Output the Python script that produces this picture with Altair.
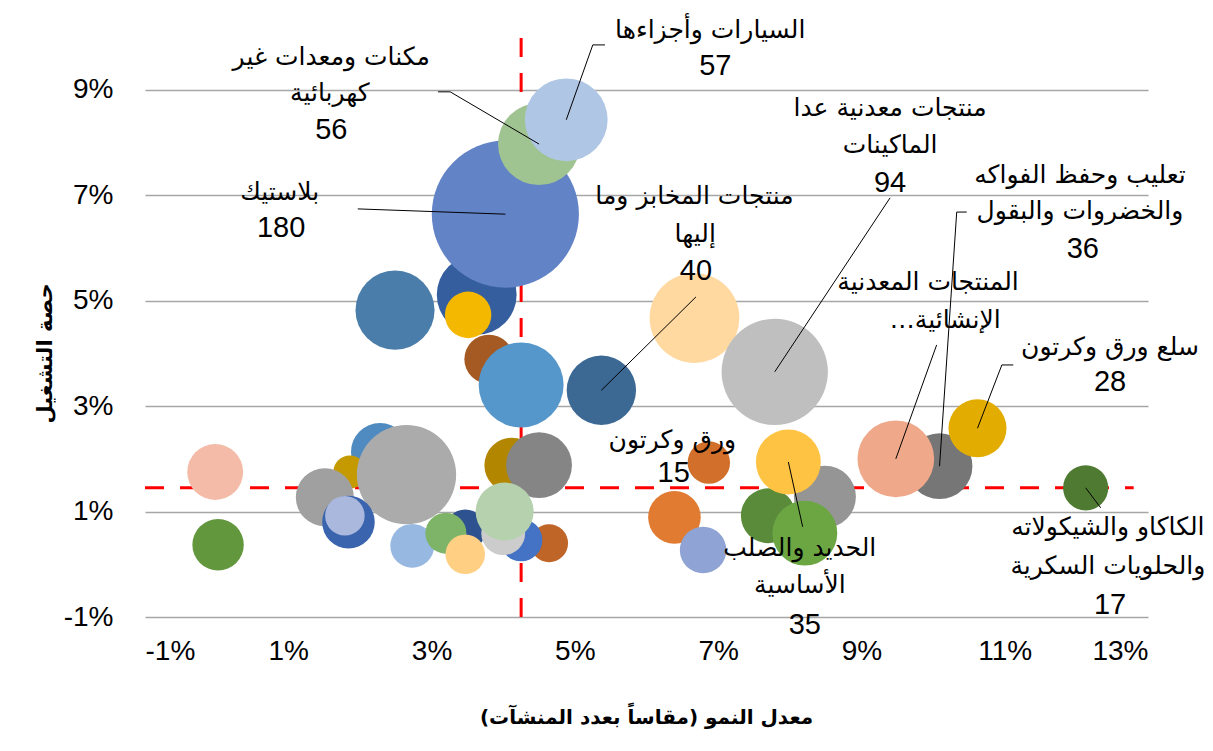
import altair as alt
import pandas as pd

# ---------------- bubble data (back to front) ----------------
growth = [3.63, 2.49, 4.03, 3.51, 4.50, 4.88, 3.80, 5.37, 4.25,
          6.67, 7.79, 8.49, 7.70, 7.98, 8.21, 6.39, 6.79, 6.87,
          10.09, 9.48, 10.62, 12.13,
          -0.02, 0.02, 2.28, 1.86, 1.51, 2.65, 1.84, 1.79, 2.73,
          3.47, 3.20, 3.47, 4.12, 4.50, 4.64, 4.25, 4.00, 4.02]
share = [5.11, 4.82, 6.64, 4.73, 7.97, 8.43, 3.89, 3.30, 3.40,
         4.67, 3.65, 1.28, 0.92, 1.94, 0.59, 0.89, 0.27, 1.93,
         1.86, 2.00, 2.58, 1.45,
         1.75, 0.37, 2.13, 1.75, 1.27, 1.70, 0.80, 0.92, 0.35,
         0.65, 0.59, 0.19, 1.88, 1.88, 0.40, 0.46, 0.59, 1.00]
count = [53, 52, 180, 18, 56, 57, 20, 40, 60,
         67, 94, 32, 25, 35, 35, 23, 18, 15,
         36, 49, 28, 17,
         26, 22, 28, 9, 28, 82, 23, 13, 16,
         14, 14, 13, 25, 36, 12, 15, 16, 28]
colors = ["#355E9F", "#4A7DAA", "#6283C6", "#F5B800", "#A0C491", "#AFC7E5", "#A45A22", "#3C6894", "#5596CB",
          "#FFD9A0", "#BFBFBF", "#959595", "#5A8B3A", "#FEC342", "#6BA643", "#E07B31", "#8FA3D4", "#D2702B",
          "#767676", "#F0A88A", "#E2AC00", "#4F7A31",
          "#F4BCA8", "#62973E", "#4F8BC0", "#C49A00", "#A0A0A0", "#ABABAB", "#3A64AD", "#AAB8DD", "#97B8E0",
          "#2E528F", "#7DB468", "#FFD084", "#B38600", "#858585", "#BF6527", "#4472C4", "#CCCCCC", "#B5D1AE"]

bubbles = pd.DataFrame({
    "idx": list(range(len(growth))),
    "growth": growth,
    "share": share,
    "count": count,
    "color": colors,
})

RLM = "\u200F"

# ---------------- labels ----------------
name_text = ["السيارات وأجزاءها",
             "مكنات ومعدات غير", "كهربائية",
             "بلاستيك",
             "منتجات معدنية عدا", "الماكينات",
             "منتجات المخابز وما", "إليها",
             "تعليب وحفظ الفواكه", "والخضروات والبقول",
             "المنتجات المعدنية", "الإنشائية…",
             "سلع ورق وكرتون",
             "ورق وكرتون",
             "الحديد والصلب", "الأساسية",
             "الكاكاو والشيكولاته", "والحلويات السكرية"]
name_x = [6.89, 1.60, 1.58, 0.88, 9.40, 9.40, 6.67, 6.68, 12.05, 12.05,
          9.93, 10.17, 12.47, 6.36, 8.14, 8.14, 12.44, 12.44]
name_y = [10.13, 9.62, 8.94, 7.06, 8.65, 7.95, 6.98, 6.26, 7.38, 6.70,
          5.35, 4.63, 4.12, 2.36, 0.31, -0.39, 0.71, -0.03]
names = pd.DataFrame({"t": [RLM + s + RLM for s in name_text], "x": name_x, "y": name_y})

num_text = ["57", "56", "180", "94", "40", "36", "28", "15", "35", "17"]
num_x = [6.96, 1.60, 0.90, 9.40, 6.69, 12.09, 12.47, 6.38, 8.21, 12.47]
num_y = [9.45, 8.24, 6.38, 7.23, 5.56, 5.98, 3.46, 1.73, -1.15, -0.77]
nums = pd.DataFrame({"t": num_text, "x": num_x, "y": num_y})

# leader lines: start point, optional elbow, target bubble index
leader_start_x = [5.42, 3.09, 1.97, 9.40, 6.69, 10.47, 10.05, 11.12, 8.18, 12.34]
leader_start_y = [9.85, 8.96, 6.74, 6.95, 5.07, 6.68, 4.16, 3.78, 0.71, 1.07]
leader_elbow_x = [5.25, 3.26, None, None, None, 10.33, None, 10.96, None, None]
leader_target = [5, 4, 2, 10, 7, 18, 19, 20, 13, 21]

segs = []
for sx, sy, ex, t in zip(leader_start_x, leader_start_y, leader_elbow_x, leader_target):
    tx, ty = growth[t], share[t]
    if ex is not None:
        segs.append({"x": sx, "y": sy, "x2": ex, "y2": sy})
        segs.append({"x": ex, "y": sy, "x2": tx, "y2": ty})
    else:
        segs.append({"x": sx, "y": sy, "x2": tx, "y2": ty})
leaders = pd.DataFrame(segs)

# reference (average) lines
vline = pd.DataFrame({"x": [4.25], "y": [-1.0], "y2": [10.0]})
hline = pd.DataFrame({"y": [1.45], "x": [-1.0], "x2": [12.8]})

FONT = "Liberation Sans, Arial, DejaVu Sans"
AFONT = "DejaVu Sans"

xs = alt.Scale(domain=[-1, 13], nice=False, zero=False)
ys = alt.Scale(domain=[-1, 10], nice=False, zero=False)

x_axis = alt.Axis(values=[-1, 1, 3, 5, 7, 9, 11, 13], labelExpr="datum.value + '%'",
                  grid=False, domain=False, ticks=False, labelFontSize=28, labelFont=FONT,
                  labelColor="#000000", labelPadding=20,
                  title=RLM + "معدل النمو (مقاساً بعدد المنشآت)" + RLM, titleFont=AFONT,
                  titleFontSize=20, titleFontWeight="bold", titleColor="#000000",
                  titleX=501, titleY=100, titleBaseline="middle", titleAlign="center")
y_axis = alt.Axis(values=[-1, 1, 3, 5, 7, 9], labelExpr="datum.value + '%'",
                  grid=True, gridColor="#A6A6A6", gridWidth=1.3, domain=False, ticks=False,
                  labelFontSize=28, labelFont=FONT, labelColor="#000000", labelPadding=32,
                  title="حصة التشغيل", titleFont=AFONT, titleFontSize=21, titleFontWeight="bold",
                  titleColor="#000000", titleX=-100, titleY=316, titleBaseline="middle",
                  titleAlign="center", titleAngle=270)

red_v = alt.Chart(vline).mark_rule(color="#FF0000", strokeWidth=3, strokeDash=[19, 16]).encode(
    x=alt.X("x:Q", scale=xs, axis=x_axis),
    y=alt.Y("y:Q", scale=ys, axis=y_axis),
    y2="y2:Q",
)
red_h = alt.Chart(hline).mark_rule(color="#FF0000", strokeWidth=3, strokeDash=[19, 16]).encode(
    x=alt.X("x:Q", scale=xs),
    x2="x2:Q",
    y=alt.Y("y:Q", scale=ys),
)

circles = alt.Chart(bubbles).mark_circle(opacity=1).encode(
    x=alt.X("growth:Q", scale=xs),
    y=alt.Y("share:Q", scale=ys),
    size=alt.Size("count:Q", scale=alt.Scale(domain=[0, 180], range=[0, 21642]), legend=None),
    color=alt.Color("color:N", scale=None),
    order=alt.Order("idx:Q"),
)

lead = alt.Chart(leaders).mark_rule(color="#000000", strokeWidth=1).encode(
    x=alt.X("x:Q", scale=xs), y=alt.Y("y:Q", scale=ys), x2="x2:Q", y2="y2:Q"
)

name_layer = alt.Chart(names).mark_text(font=AFONT, fontSize=25, color="#000000",
                                        align="center", baseline="middle").encode(
    x=alt.X("x:Q", scale=xs), y=alt.Y("y:Q", scale=ys), text="t:N"
)
num_layer = alt.Chart(nums).mark_text(font=FONT, fontSize=29, color="#000000",
                                      align="center", baseline="middle").encode(
    x=alt.X("x:Q", scale=xs), y=alt.Y("y:Q", scale=ys), text="t:N"
)

chart = alt.layer(red_v, red_h, circles, lead, name_layer, num_layer).properties(
    width=1003, height=580,
    autosize=alt.AutoSizeParams(type="none"),
    padding={"left": 137, "top": 29, "right": 57, "bottom": 118},
).configure_view(strokeWidth=0)

chart.save("out.html", embed_options={"renderer": "svg", "actions": False})
